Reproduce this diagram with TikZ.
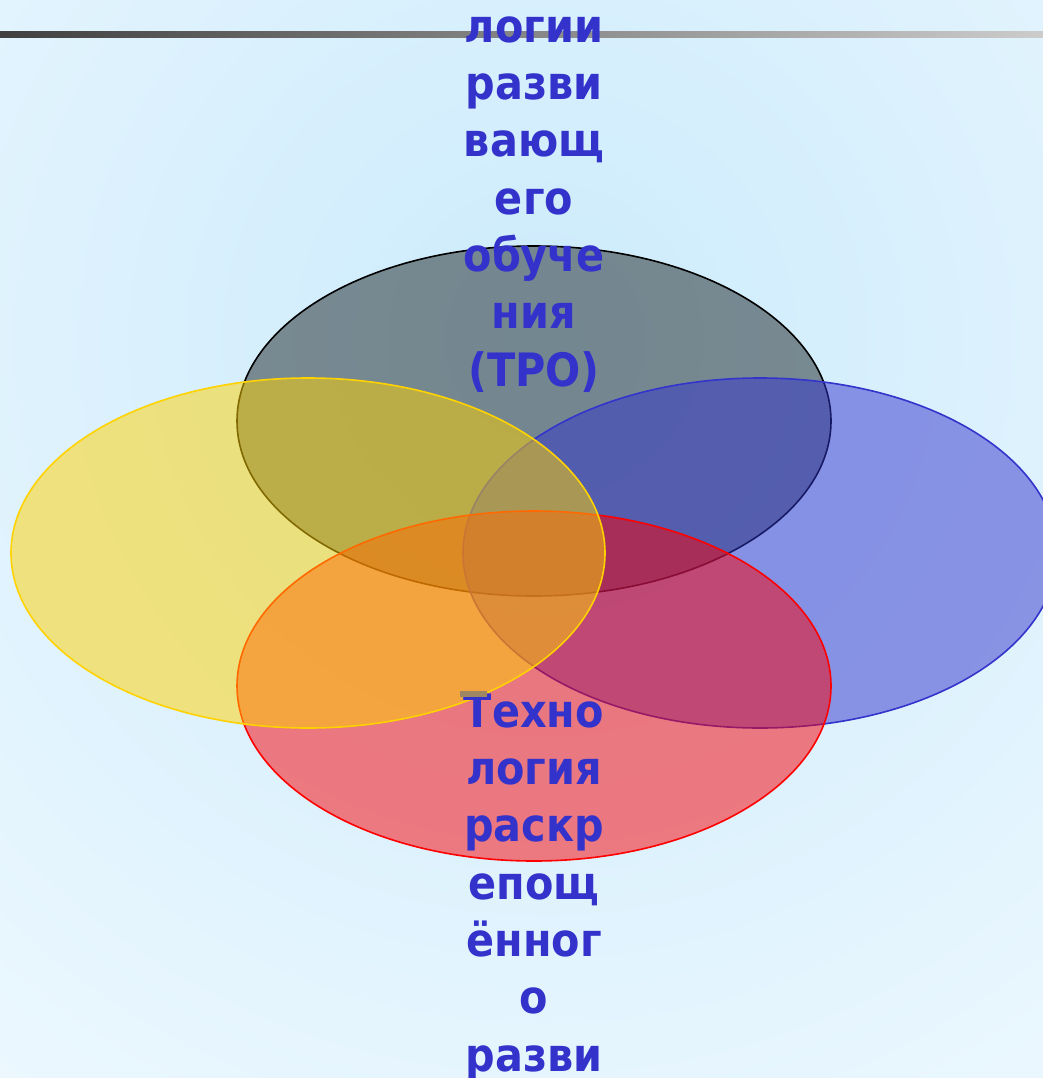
\documentclass[tikz,border=0pt]{standalone}
\usepackage{fontspec}
\newfontfamily\vennfont[FakeStretch=0.9]{DejaVu Sans}
\definecolor{fondocentro}{RGB}{204,235,252}
\definecolor{fondoborde}{RGB}{244,251,255}
\definecolor{grisvenn}{RGB}{27,36,38}
\definecolor{amarillovenn}{RGB}{255,210,0}
\definecolor{azulvenn}{RGB}{51,52,204}
\definecolor{rojovenn}{RGB}{250,0,5}
\definecolor{textoazul}{RGB}{51,51,204}
\definecolor{marcagris}{RGB}{158,136,100}

\begin{document}
\begin{tikzpicture}[x=1pt,y=-1pt,line width=1.6pt,
  circulo/.style={fill opacity=0.5},
  rotulo/.style={font={\vennfont\bfseries\fontsize{46}{57.3}\selectfont},
    text=textoazul,align=center,inner sep=0pt}]
  \useasboundingbox (0,0) rectangle (1043,1078);
  \clip (0,0) rectangle (1043,1078);
  % fondo degradado
  \fill[fondoborde] (0,0) rectangle (1043,1078);
  \shade[inner color=fondocentro,outer color=fondoborde] (545,340) circle (1150);
  % linea superior
  \shade[left color=black!75,right color=black!20] (0,31.5) rectangle (1043,38);
  % elipses
  \draw[circulo,fill=grisvenn,draw=black] (534,421) ellipse (297 and 175);
  \draw[circulo,fill=azulvenn,draw=azulvenn] (760,553) ellipse (297 and 175);
  \draw[circulo,fill=rojovenn,draw=red] (534,686) ellipse (297 and 175);
  \draw[circulo,fill=amarillovenn,draw=amarillovenn] (308,553) ellipse (297 and 175);
  % textos (anchor=base toma la ultima linea)
  \node[rotulo,anchor=base] (tro) at (534,386)
    {логии\\разви\\вающ\\его\\обуче\\ния\\(ТРО)};
  \node[rotulo,anchor=base] (trr) at (534,1071)
    {Техно\\логия\\раскр\\епощ\\ённог\\о\\разви};
  % marca gris
  \fill[marcagris] (460,691) rectangle (487,697);
\end{tikzpicture}
\end{document}
